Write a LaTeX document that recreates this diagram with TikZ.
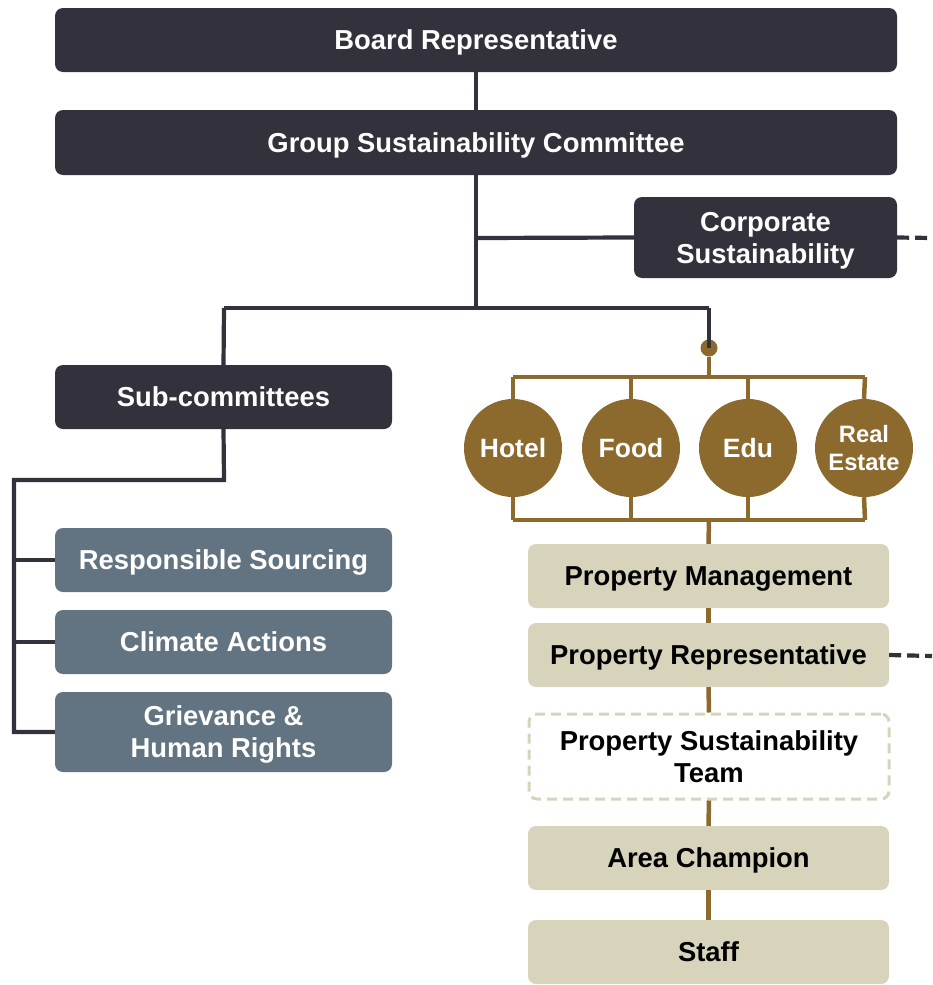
\documentclass[tikz,border=0pt]{standalone}
\usepackage{fontspec}
\setmainfont{Liberation Sans}
\definecolor{darkc}{HTML}{33313B}
\definecolor{slatec}{HTML}{627381}
\definecolor{tanc}{HTML}{D8D4BC}
\definecolor{brownc}{HTML}{8C6A2D}
\begin{document}
\begin{tikzpicture}[x=1pt,y=-1pt,
  base/.style={rounded corners=8pt, inner sep=0pt, align=center, text depth=0pt, font=\fontsize{27.4}{32}\selectfont\bfseries},
  darkbox/.style={base, fill=darkc, text=white},
  slatebox/.style={base, fill=slatec, text=white, minimum width=337pt},
  tanbox/.style={base, fill=tanc, text=black, minimum width=361pt},
  dashbox/.style={base, draw=tanc, line width=3pt, dash pattern=on 10pt off 6pt, fill=white, text=black},
  unit/.style={circle, fill=brownc, text=white, minimum size=98pt, inner sep=0pt, align=center, font=\fontsize{26.5}{32}\selectfont\bfseries},
  dline/.style={draw=darkc, line width=4.2pt},
  bline/.style={draw=brownc, line width=4.5pt},
  ddash/.style={draw=darkc, line width=4.2pt, dash pattern=on 12pt off 6pt}
]
\path[use as bounding box] (0,0) rectangle (932,985);

\coordinate (j1) at (476,308);
\coordinate (jc) at (476,238);
\coordinate (jl) at (224,308);
\coordinate (jr) at (709,308);
\coordinate (ce) at (932,238);
\coordinate (pe) at (932,656);
\coordinate (s1) at (224,480);
\coordinate (s2) at (14,480);
\coordinate (s3) at (14,732);
\coordinate (r1) at (14,560);
\coordinate (r2) at (14,642);
\coordinate (bt) at (709,377);
\coordinate (btl) at (513,377);
\coordinate (btr) at (865,377);
\coordinate (bb) at (709,520);
\coordinate (bbl) at (513,520);
\coordinate (bbr) at (865,520);

% nodes
\node[darkbox, minimum width=842pt, minimum height=64pt] (board) at (476,40) {Board Representative};
\node[darkbox, minimum width=842pt, minimum height=65pt] (gsc) at (476,142.5) {Group Sustainability Committee};
\node[darkbox, minimum width=263pt, minimum height=81pt] (corp) at (765.5,237.5) {Corporate\\Sustainability};
\node[darkbox, minimum width=337pt, minimum height=64pt] (sub) at (223.5,397) {Sub-committees};
\node[slatebox, minimum height=64pt] (rs) at (223.5,560) {Responsible Sourcing};
\node[slatebox, minimum height=64pt] (ca) at (223.5,642) {Climate Actions};
\node[slatebox, minimum height=80pt] (ghr) at (223.5,732) {Grievance \&\\Human Rights};

\node[circle, fill=brownc, minimum size=17pt, inner sep=0pt] (dot) at (709,348) {};
\node[unit] (hotel) at (513,448) {Hotel};
\node[unit] (food) at (631,448) {Food};
\node[unit] (edu) at (748,448) {Edu};
\node[unit, font=\fontsize{23.7}{28}\selectfont\bfseries] (re) at (864,448) {Real\\Estate};

\node[tanbox, minimum height=64pt] (pm) at (708.5,576) {Property Management};
\node[tanbox, minimum height=64pt] (pr) at (708.5,655) {Property Representative};
\node[dashbox, minimum width=360pt, minimum height=85pt] (pst) at (709,756.5) {Property Sustainability\\Team};
\node[tanbox, minimum height=64pt] (ac) at (708.5,858) {Area Champion};
\node[tanbox, minimum height=64pt] (staff) at (708.5,952) {Staff};

% dark connectors
\draw[dline] (board.south) -- (gsc.north);
\draw[dline] (gsc.south) -- (j1);
\draw[dline] (jc) -- (corp.west);
\draw[ddash] (corp.east) -- (ce);
\draw[dline] (jl) -- (jr);
\draw[dline] (jl) -- (sub.north);
\draw[dline] (jr) -- (dot.center);
\draw[dline] (sub.south) -- (s1) -- (s2) -- (s3) -- (ghr.west);
\draw[dline] (r1) -- (rs.west);
\draw[dline] (r2) -- (ca.west);
\draw[ddash] (pr.east) -- (pe);

% brown connectors
\draw[bline] (dot) -- (bt);
\draw[bline] (btl) -- (btr);
\draw[bline] (btl) -- (hotel.north);
\draw[bline] (food.north |- btl) -- (food.north);
\draw[bline] (edu.north |- btl) -- (edu.north);
\draw[bline] (btr) -- (re.north);
\draw[bline] (bbl) -- (bbr);
\draw[bline] (hotel.south) -- (bbl);
\draw[bline] (food.south) -- (food.south |- bbl);
\draw[bline] (edu.south) -- (edu.south |- bbl);
\draw[bline] (re.south) -- (bbr);
\draw[bline] (bb) -- (pm.north);
\draw[bline] (pm.south) -- (pr.north);
\draw[bline] (pr.south) -- (pst.north);
\draw[bline] (pst.south) -- (ac.north);
\draw[bline] (ac.south) -- (staff.north);
\end{tikzpicture}
\end{document}
